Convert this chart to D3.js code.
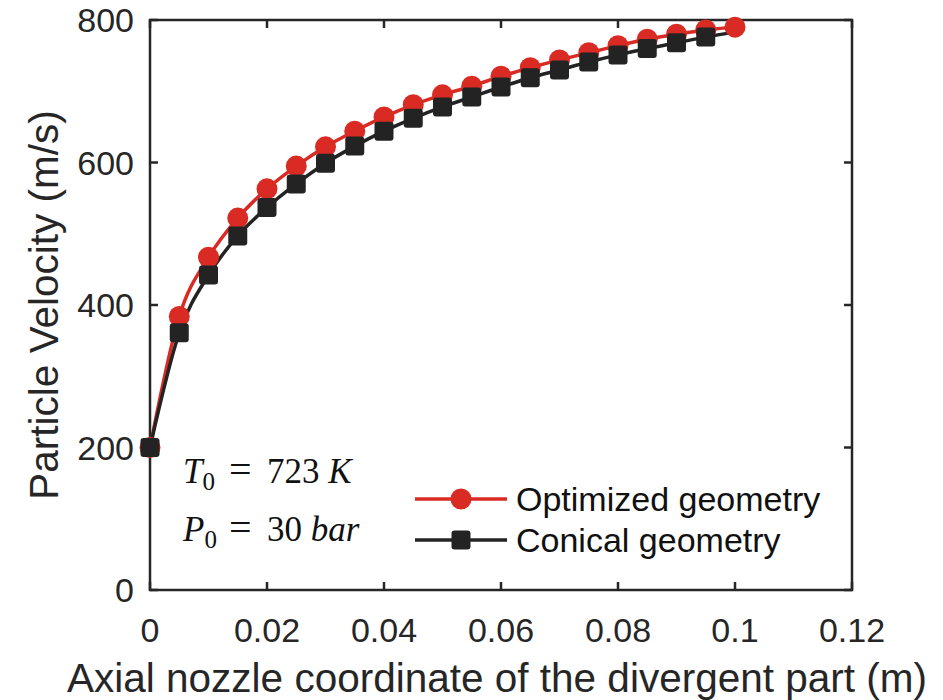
<!DOCTYPE html>
<html>
<head>
<meta charset="utf-8">
<script src="https://cdn.jsdelivr.net/npm/d3@7"></script>
<style>
  body { margin: 0; background: #fff; }
  text { font-family: "Liberation Sans", Arial, sans-serif; fill: #262626; }
</style>
</head>
<body>
<div id="chart"></div>
<script>
// data
var xs = [0, 0.005, 0.01, 0.015, 0.02, 0.025, 0.03, 0.035, 0.04, 0.045, 0.05,
          0.055, 0.06, 0.065, 0.07, 0.075, 0.08, 0.085, 0.09, 0.095, 0.1]
var optimized = [200, 384, 467, 522, 563, 595, 622, 644, 664, 681, 695,
                 707, 721, 733, 744, 754, 764, 773, 780, 786, 790]
var conical = [200, 361, 442, 497, 537, 570, 599, 623, 644, 662, 678,
               692, 706, 719, 730, 741, 751, 760, 768, 776, 783]
var conicalMarkers = 20   // no square drawn at x = 0.1
var xTicks = [0, 0.02, 0.04, 0.06, 0.08, 0.1, 0.12]
var yTicks = [0, 200, 400, 600, 800]
var seriesNames = ["Optimized geometry", "Conical geometry"]

var w = 943, h = 700
var pLeft = 150, pRight = 852, pTop = 20, pBottom = 590
var red = "#d92b24", dark = "#232323", axisCol = "#262626"

var svg = d3.select("#chart").append("svg")
    .attr("width", w)
    .attr("height", h)

var x = d3.scaleLinear().domain([0, 0.12]).range([pLeft, pRight])
var y = d3.scaleLinear().domain([0, 800]).range([pBottom, pTop])

//axes box with inward ticks
var g = svg.append("g")
g.append("rect")
    .attr("x", pLeft).attr("y", pTop)
    .attr("width", pRight - pLeft).attr("height", pBottom - pTop)
    .attr("fill", "none").attr("stroke", axisCol).attr("stroke-width", 2.5)

var tl = 8
xTicks.forEach(function(t){
    g.append("line").attr("x1", x(t)).attr("x2", x(t)).attr("y1", pBottom).attr("y2", pBottom - tl)
        .attr("stroke", axisCol).attr("stroke-width", 2.5)
    g.append("line").attr("x1", x(t)).attr("x2", x(t)).attr("y1", pTop).attr("y2", pTop + tl)
        .attr("stroke", axisCol).attr("stroke-width", 2.5)
    g.append("text").attr("x", x(t)).attr("y", 642)
        .attr("text-anchor", "middle").attr("font-size", 34)
        .text(d3.format("~g")(t))
})
yTicks.forEach(function(t){
    g.append("line").attr("x1", pLeft).attr("x2", pLeft + tl).attr("y1", y(t)).attr("y2", y(t))
        .attr("stroke", axisCol).attr("stroke-width", 2.5)
    g.append("line").attr("x1", pRight).attr("x2", pRight - tl).attr("y1", y(t)).attr("y2", y(t))
        .attr("stroke", axisCol).attr("stroke-width", 2.5)
    g.append("text").attr("x", 134).attr("y", y(t)).attr("dy", "0.36em")
        .attr("text-anchor", "end").attr("font-size", 34)
        .text(t)
})

svg.append("text")
    .attr("x", 497).attr("y", 692)
    .attr("text-anchor", "middle").attr("font-size", 40.5)
    .text("Axial nozzle coordinate of the divergent part (m)")

svg.append("text")
    .attr("transform", "translate(58,305) rotate(-90)")
    .attr("text-anchor", "middle").attr("font-size", 40.5)
    .text("Particle Velocity (m/s)")

//lines
var line = d3.line()
    .x(function(d){ return x(d[0]) })
    .y(function(d){ return y(d[1]) })
    .curve(d3.curveMonotoneX)

var optPts = xs.map(function(v,i){ return [v, optimized[i]] })
var conPts = xs.map(function(v,i){ return [v, conical[i]] })

svg.append("path").attr("d", line(optPts))
    .attr("fill", "none").attr("stroke", red).attr("stroke-width", 3.5)
svg.append("path").attr("d", line(conPts))
    .attr("fill", "none").attr("stroke", dark).attr("stroke-width", 3.5)

svg.selectAll(".opt")
    .data(optPts)
    .enter()
    .append("circle")
    .attr("class", "opt")
    .attr("cx", function(d){ return x(d[0]) })
    .attr("cy", function(d){ return y(d[1]) })
    .attr("r", 10.5)
    .attr("fill", red)

var sq = 19
svg.selectAll(".con")
    .data(conPts.slice(0, conicalMarkers))
    .enter()
    .append("rect")
    .attr("class", "con")
    .attr("x", function(d){ return x(d[0]) - sq/2 })
    .attr("y", function(d){ return y(d[1]) - sq/2 })
    .attr("width", sq).attr("height", sq)
    .attr("rx", 3)
    .attr("fill", dark)

//legend
var leg = svg.append("g")
var legY = [499, 540]
var legCol = [red, dark]
seriesNames.forEach(function(name, i){
    leg.append("line").attr("x1", 415).attr("x2", 507).attr("y1", legY[i]).attr("y2", legY[i])
        .attr("stroke", legCol[i]).attr("stroke-width", 3.5)
    if (i == 0) {
        leg.append("circle").attr("cx", 461).attr("cy", legY[i]).attr("r", 10.5).attr("fill", red)
    } else {
        leg.append("rect").attr("x", 461 - sq/2).attr("y", legY[i] - sq/2)
            .attr("width", sq).attr("height", sq).attr("rx", 3).attr("fill", dark)
    }
    leg.append("text").attr("x", 516).attr("y", legY[i]).attr("dy", "0.36em")
        .attr("font-size", 34).style("fill", "#111").text(name)
})

//annotation
var serif = "'Liberation Serif', 'DejaVu Serif', serif"
function mathRow(yy, sym, rest, unit){
    var t = svg.append("text").attr("x", 183).attr("y", yy).attr("font-size", 35)
        .style("fill", "#111").style("font-family", serif)
    t.append("tspan").style("font-style", "italic").text(sym)
    t.append("tspan").attr("font-size", 25).attr("dy", 7).text("0")
    t.append("tspan").attr("x", 229).attr("dy", -7).attr("font-size", 40).text("=")
    t.append("tspan").attr("x", 267).text(rest)
    t.append("tspan").style("font-style", "italic").text(" " + unit)
}
mathRow(483, "T", "723", "K")
mathRow(541, "P", "30", "bar")
</script>
</body>
</html>
